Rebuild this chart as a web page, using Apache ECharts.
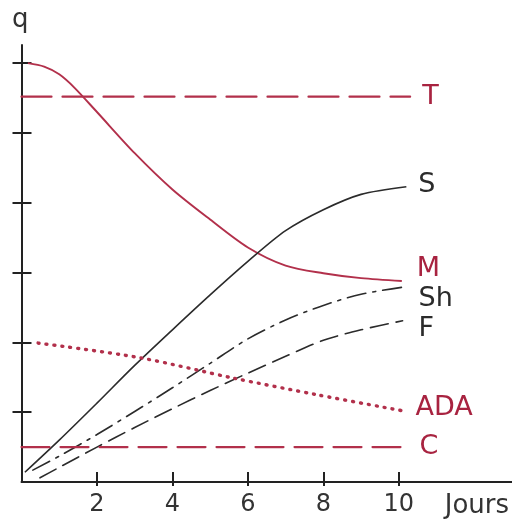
<!DOCTYPE html>
<html>
<head>
<meta charset="utf-8">
<script src="https://cdn.jsdelivr.net/npm/echarts@6/dist/echarts.min.js"></script>
<style>html,body{margin:0;padding:0;background:#fff}#c{width:512px;height:523px}</style>
</head>
<body>
<div id="c"></div>
<script>
// Data (x = jours, y = q in tick units)
const xTicks = [2, 4, 6, 8, 10];
const yTicks = [1, 2, 3, 4, 5, 6];

const tX = [0, 10.3];
const tY = [5.52, 5.52];

const mX = [0.17, 0.6, 1, 1.4, 2, 3, 4, 5, 6, 7, 8, 9, 10.08];
const mY = [6.0, 5.95, 5.84, 5.65, 5.30, 4.71, 4.19, 3.76, 3.36, 3.10, 2.99, 2.92, 2.88];

const sX = [0.09, 1, 2, 3, 4, 5, 6, 7, 8, 9, 10.2];
const sY = [0.14, 0.6, 1.13, 1.67, 2.18, 2.68, 3.16, 3.60, 3.90, 4.12, 4.23];

const shX = [0.3, 1, 2, 3, 4, 5, 6, 7, 8, 9, 10.1];
const shY = [0.17, 0.37, 0.68, 1.01, 1.35, 1.70, 2.05, 2.32, 2.53, 2.69, 2.79];

const fX = [0.49, 1, 2, 3, 4, 5, 6, 7, 8, 9, 10.1];
const fY = [0.06, 0.21, 0.50, 0.78, 1.05, 1.31, 1.56, 1.80, 2.03, 2.18, 2.31];

const adaX = [0.44, 3.14, 5.6, 7.83, 10.1];
const adaY = [1.99, 1.78, 1.49, 1.25, 1.02];

const cX = [0, 10.1];
const cY = [0.5, 0.5];

const zip = (xs, ys) => xs.map((x, i) => [x, ys[i]]);

const RED = '#b2304b';
const RED_TXT = '#a82340';
const BLK = '#2b2b2b';
const FONT = 'DejaVu Sans';

function line(name, xs, ys, color, width, dash, smooth, off, txtColor) {
  return {
    name, type: 'line', data: zip(xs, ys), smooth: smooth,
    showSymbol: false, symbol: 'none', silent: true, animation: false,
    lineStyle: { color, width, type: dash, cap: dash === 'solid' ? 'butt' : 'round' },
    endLabel: { show: true, formatter: name, color: txtColor, fontSize: 27, fontFamily: FONT, offset: off, distance: 8 }
  };
}

const chart = echarts.init(document.getElementById('c'), null, { renderer: 'canvas' });
const axisLine = { show: true, lineStyle: { color: '#222', width: 2 } };
chart.setOption({
  animation: false,
  grid: { left: 21.5, right: 0, top: 45, bottom: 41, containLabel: false },
  xAxis: [
    { type: 'value', min: 0, max: 13, position: 'bottom', axisLine: axisLine,
      splitLine: { show: false },
      axisTick: { show: true, inside: true, length: 10, customValues: xTicks, lineStyle: { color: '#222', width: 2 } },
      axisLabel: { show: true, customValues: xTicks, color: '#333', fontSize: 24, fontFamily: FONT, margin: 11 } },
    { type: 'value', min: 0, max: 13, position: 'bottom', axisLine: { show: false },
      splitLine: { show: false },
      axisTick: { show: true, inside: false, length: 4, customValues: xTicks, lineStyle: { color: '#222', width: 2 } },
      axisLabel: { show: false } }
  ],
  yAxis: [
    { type: 'value', min: 0, max: 6.26, position: 'left', axisLine: axisLine,
      splitLine: { show: false },
      axisTick: { show: true, inside: false, length: 9, customValues: yTicks, lineStyle: { color: '#222', width: 2 } },
      axisLabel: { show: false } },
    { type: 'value', min: 0, max: 6.26, position: 'left', axisLine: { show: false },
      splitLine: { show: false },
      axisTick: { show: true, inside: true, length: 10, customValues: yTicks, lineStyle: { color: '#222', width: 2 } },
      axisLabel: { show: false } }
  ],
  graphic: [
    { type: 'text', left: 12, top: 7, style: { text: 'q', fontSize: 26, fontFamily: FONT, fill: '#333' } },
    { type: 'text', right: 3, top: 493, style: { text: 'Jours', fontSize: 26, fontFamily: FONT, fill: '#333' } }
  ],
  series: [
    line('T', tX, tY, RED, 2.2, [30, 11], false, [4, 0], RED_TXT),
    line('M', mX, mY, RED, 1.9, 'solid', 0.3, [7, -12], RED_TXT),
    line('S', sX, sY, BLK, 1.6, 'solid', 0.3, [4, -2], BLK),
    line('Sh', shX, shY, BLK, 1.6, [19, 7, 3, 7], 0.3, [8, 12], BLK),
    line('F', fX, fY, BLK, 1.6, [18, 8], 0.3, [8, 8], BLK),
    line('ADA', adaX, adaY, RED, 3.4, [1, 7], 0.3, [5, -3], RED_TXT),
    line('C', cX, cY, RED, 2.2, [28, 11], false, [9, 0], RED_TXT)
  ]
});
</script>
</body>
</html>
